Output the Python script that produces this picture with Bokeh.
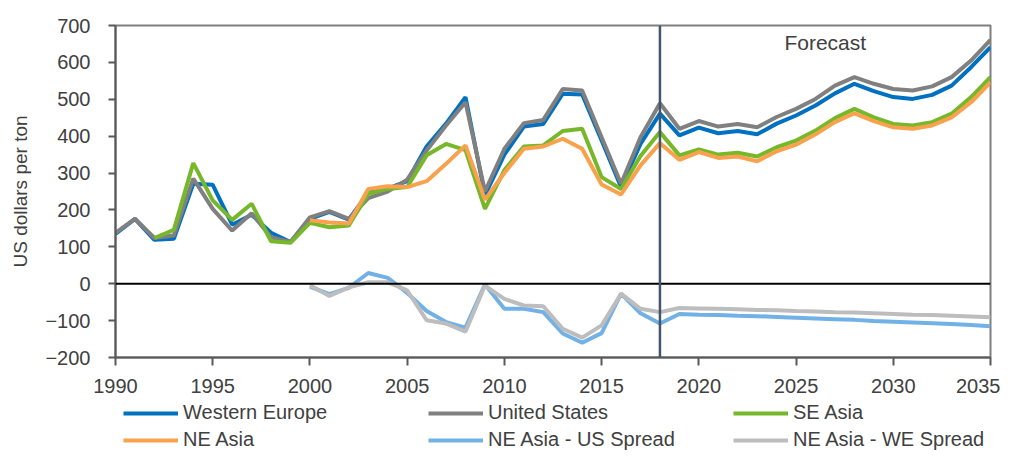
from bokeh.plotting import figure
from bokeh.layouts import column
from bokeh.models import Legend, LegendItem, Span, Label, FixedTicker, Range1d
from bokeh.embed import file_html
from bokeh.resources import INLINE

nan = float("nan")
years = list(range(1990, 2036))

western_europe = [135, 176, 119, 122, 271, 268, 160, 187, 138, 113,
                  176, 195, 174, 246, 258, 278, 372, 434, 506, 240,
                  350, 426, 433, 515, 513, 388, 262, 379, 461,
                  402, 423, 408, 414, 405, 434, 456, 483, 516, 542,
                  522, 506, 501, 512, 537, 587, 641]
united_states = [138, 176, 124, 131, 285, 203, 144, 191, 126, 113,
                 180, 197, 176, 232, 250, 282, 361, 429, 492, 250,
                 366, 435, 444, 528, 524, 397, 271, 397, 489,
                 420, 441, 426, 433, 424, 452, 474, 501, 537, 560,
                 542, 528, 524, 535, 560, 605, 661]
se_asia = [nan, nan, 124, 146, 327, 226, 173, 217, 115, 111,
           165, 153, 158, 244, 257, 262, 348, 379, 362, 203,
           308, 372, 375, 414, 420, 289, 257, 346, 411,
           348, 364, 350, 355, 345, 370, 388, 415, 449, 474,
           451, 433, 429, 438, 461, 506, 560]
ne_asia = [nan] * 10 + [
           172, 166, 163, 257, 264, 262, 278, 325, 375, 228,
           300, 366, 372, 393, 366, 269, 242, 321, 381,
           336, 357, 341, 345, 332, 359, 377, 405, 438, 462,
           441, 424, 420, 429, 451, 492, 546]
ne_us_spread = [nan] * 10 + [
                -8, -28, -11, 29, 16, -25, -74, -104, -119, -2,
                -68, -68, -77, -135, -160, -134, -27, -80, -108,
                -82, -84, -85, -87, -88, -90, -92, -94, -96, -98,
                -101, -103, -105, -107, -109, -112, -115]
ne_we_spread = [nan] * 10 + [
                -4, -33, -10, 4, 4, -18, -99, -108, -130, -5,
                -41, -59, -61, -122, -146, -113, -27, -68, -77,
                -66, -67, -68, -69, -71, -72, -74, -75, -77, -78,
                -80, -82, -84, -85, -87, -89, -91]

series_names = ["Western Europe", "United States", "SE Asia",
                "NE Asia", "NE Asia - US Spread", "NE Asia - WE Spread"]
series_values = [western_europe, united_states, se_asia, ne_asia,
                 ne_us_spread, ne_we_spread]
colors = ["#0070C0", "#808080", "#76B82A", "#F9A14D", "#72B1E6", "#BDBDBD"]

y_ticks = list(range(-200, 701, 100))
x_ticks = list(range(1990, 2036, 5))
forecast_year = 2018

FONT = "Liberation Sans"
TXT = "#404040"

p = figure(width=1000, height=402, x_range=(1990, 2035), y_range=(-200, 700),
           output_backend="svg", toolbar_location=None,
           min_border_left=115, min_border_right=10, min_border_top=25,
           min_border_bottom=45)
p.background_fill_color = "white"
p.border_fill_color = "white"
p.outline_line_color = "#7F7F7F"
p.outline_line_width = 2
p.xgrid.visible = False
p.ygrid.visible = False

p.yaxis.ticker = FixedTicker(ticks=y_ticks)
p.xaxis.ticker = FixedTicker(ticks=x_ticks)
for ax in (p.xaxis[0], p.yaxis[0]):
    ax.axis_line_color = "#595959"
    ax.axis_line_width = 2
    ax.major_tick_line_color = "#595959"
    ax.major_tick_line_width = 2
    ax.major_tick_in = 0
    ax.minor_tick_line_color = None
    ax.major_label_text_font = FONT
    ax.major_label_text_font_size = "20px"
    ax.major_label_text_color = TXT
p.yaxis.major_tick_out = 7
p.xaxis.major_tick_out = 8
p.yaxis.major_label_standoff = 18
p.xaxis.major_label_standoff = 13
p.yaxis.axis_label = "US dollars per ton"
p.yaxis.axis_label_text_font = FONT
p.yaxis.axis_label_text_font_size = "19px"
p.yaxis.axis_label_text_font_style = "normal"
p.yaxis.axis_label_text_color = TXT
p.yaxis.axis_label_standoff = 11

for vals, col in zip(series_values, colors):
    p.line(years, vals, line_color=col, line_width=4)

p.add_layout(Span(location=0, dimension="width", line_color="black", line_width=2))
p.add_layout(Span(location=forecast_year, dimension="height", line_color="#44546A", line_width=2.5))
p.add_layout(Label(x=2026.5, y=653, text="Forecast", text_align="center",
                   text_baseline="middle", text_font=FONT, text_font_size="21px",
                   text_color=TXT))

# legend strip below the chart (its series lie outside its own view range)
lf = figure(width=1000, height=49, x_range=Range1d(0, 1), y_range=Range1d(0, 1),
            output_backend="svg", toolbar_location=None,
            x_axis_location=None, y_axis_location=None,
            min_border_left=0, min_border_right=0, min_border_top=0, min_border_bottom=0)
lf.outline_line_color = None
lf.xgrid.visible = False
lf.ygrid.visible = False
lf.background_fill_color = "white"
lf.border_fill_color = "white"
items = []
for name, vals, col in zip(series_names, series_values, colors):
    r = lf.line(years, vals, line_color=col, line_width=4)
    items.append(LegendItem(label=name, renderers=[r]))

legend = Legend(items=items, location=(8, 0), orientation="horizontal", ncols=3,
                glyph_width=55, glyph_height=22, label_height=22, label_width=241,
                label_standoff=5, spacing=4, padding=0, margin=0,
                border_line_color=None, background_fill_alpha=0,
                label_text_font=FONT, label_text_font_size="20px", label_text_color=TXT)
lf.add_layout(legend, "center")

layout = column(p, lf, spacing=0)
open("out.html", "w").write(file_html(layout, INLINE))
